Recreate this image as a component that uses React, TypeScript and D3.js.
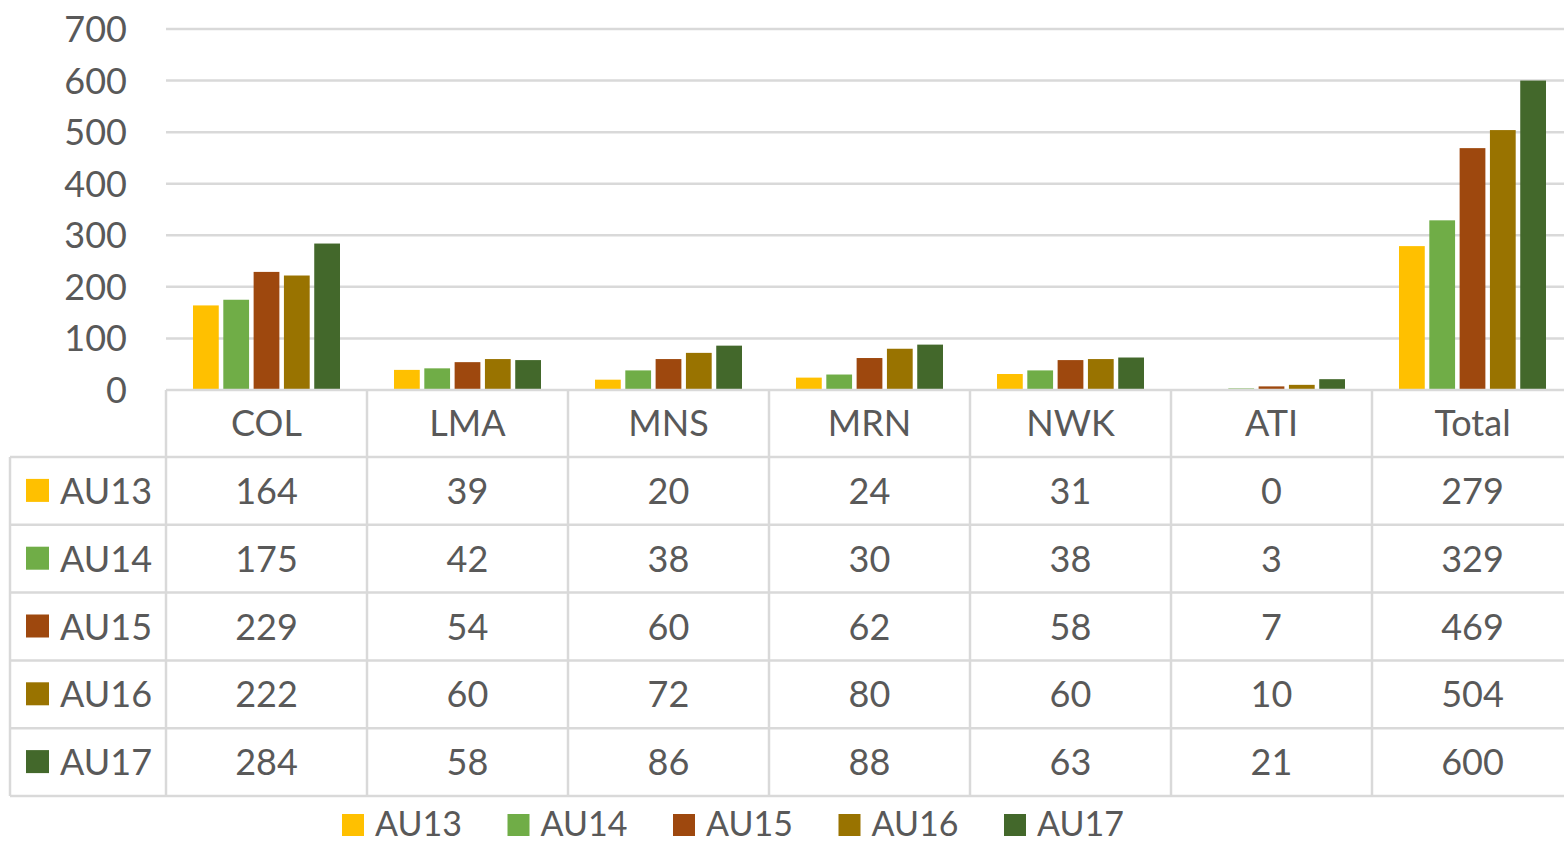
import React, { useRef, useEffect } from 'react'
import * as d3 from 'd3'

const categories = ['COL', 'LMA', 'MNS', 'MRN', 'NWK', 'ATI', 'Total']
const seriesNames = ['AU13', 'AU14', 'AU15', 'AU16', 'AU17']
const au13 = [164, 39, 20, 24, 31, 0, 279]
const au14 = [175, 42, 38, 30, 38, 3, 329]
const au15 = [229, 54, 60, 62, 58, 7, 469]
const au16 = [222, 60, 72, 80, 60, 10, 504]
const au17 = [284, 58, 86, 88, 63, 21, 600]
const seriesColors = ['#FFC000', '#70AD47', '#9E480E', '#997300', '#43682B']
const yTicks = [0, 100, 200, 300, 400, 500, 600, 700]

const W = 1564
const H = 844
const FONT = 'Lato, "Open Sans", sans-serif'
const TEXT = '#595959'
const GRID = '#d9d9d9'

export default function App() {
    const ref = useRef<SVGSVGElement>(null)

    useEffect(() => {
        const svg = d3.select(ref.current)
        svg.selectAll('*').remove()

        const values = [au13, au14, au15, au16, au17]
        const rows = seriesNames.map((name, i) => ({ name, color: seriesColors[i], vals: values[i] }))

        const plotLeft = 166
        const colW = 201
        const x = d3
            .scaleBand()
            .domain(categories)
            .range([plotLeft, plotLeft + colW * categories.length])
            .padding(0)

        const x1 = d3
            .scaleBand()
            .domain(seriesNames)
            .range([27, colW - 27])
            .paddingInner(0.15)
            .paddingOuter(0)

        const y = d3.scaleLinear().domain([0, 700]).range([390, 29])

        // gridlines
        svg.append('g')
            .selectAll('line')
            .data(yTicks.filter((t) => t > 0))
            .join('line')
            .attr('x1', plotLeft)
            .attr('x2', W)
            .attr('y1', (d) => y(d))
            .attr('y2', (d) => y(d))
            .attr('stroke', GRID)
            .attr('stroke-width', 2.5)

        // y labels
        svg.append('g')
            .selectAll('text')
            .data(yTicks)
            .join('text')
            .attr('x', 127)
            .attr('y', (d) => y(d) - 1)
            .attr('text-anchor', 'end')
            .attr('dominant-baseline', 'central')
            .attr('font-family', FONT)
            .attr('font-size', 36)
            .attr('fill', TEXT)
            .text((d) => d)

        // bars
        svg.append('g')
            .selectAll('g')
            .data(rows)
            .join('g')
            .attr('fill', (d) => d.color)
            .selectAll('rect')
            .data((d) => d.vals.map((v, j) => ({ name: d.name, cat: categories[j], v })))
            .join('rect')
            .attr('x', (d) => x(d.cat)! + x1(d.name)!)
            .attr('y', (d) => y(d.v))
            .attr('width', x1.bandwidth())
            .attr('height', (d) => y(0) - y(d.v))

        // data table
        const headTop = y(0)
        const headBottom = 457
        const rowH = 67.8
        const tableLeft = 10
        const tableBottom = headBottom + rowH * rows.length
        const table = svg.append('g').attr('stroke', GRID).attr('stroke-width', 2.5)

        table.append('line')
            .attr('x1', plotLeft).attr('x2', W)
            .attr('y1', headTop).attr('y2', headTop)

        table.selectAll('line.h')
            .data(d3.range(rows.length + 1))
            .join('line')
            .attr('class', 'h')
            .attr('x1', tableLeft).attr('x2', W)
            .attr('y1', (i) => headBottom + i * rowH)
            .attr('y2', (i) => headBottom + i * rowH)

        table.append('line')
            .attr('x1', tableLeft).attr('x2', tableLeft)
            .attr('y1', headBottom).attr('y2', tableBottom)

        table.selectAll('line.v')
            .data(d3.range(categories.length + 1))
            .join('line')
            .attr('class', 'v')
            .attr('x1', (i) => plotLeft + i * colW)
            .attr('x2', (i) => plotLeft + i * colW)
            .attr('y1', headTop)
            .attr('y2', tableBottom)

        // header labels
        svg.append('g')
            .selectAll('text')
            .data(categories)
            .join('text')
            .attr('x', (d) => x(d)! + x.bandwidth() / 2)
            .attr('y', (headTop + headBottom) / 2 - 2)
            .attr('text-anchor', 'middle')
            .attr('dominant-baseline', 'central')
            .attr('font-family', FONT)
            .attr('font-size', 36)
            .attr('fill', TEXT)
            .text((d) => d)

        // rows
        const rowG = svg.append('g')
            .selectAll('g')
            .data(rows)
            .join('g')
            .attr('transform', (d, i) => `translate(0,${headBottom + i * rowH + rowH / 2 - 1})`)

        rowG.append('rect')
            .attr('x', 26)
            .attr('y', -11)
            .attr('width', 23)
            .attr('height', 23)
            .attr('fill', (d) => d.color)

        rowG.append('text')
            .attr('x', 60)
            .attr('dominant-baseline', 'central')
            .attr('font-family', FONT)
            .attr('font-size', 36)
            .attr('fill', TEXT)
            .text((d) => d.name)

        rowG.selectAll('text.val')
            .data((d) => d.vals.map((v, j) => ({ cat: categories[j], v })))
            .join('text')
            .attr('class', 'val')
            .attr('x', (d) => x(d.cat)! + x.bandwidth() / 2)
            .attr('text-anchor', 'middle')
            .attr('dominant-baseline', 'central')
            .attr('font-family', FONT)
            .attr('font-size', 36)
            .attr('fill', TEXT)
            .text((d) => d.v)

        // legend
        const legend = svg.append('g')
            .selectAll('g')
            .data(rows)
            .join('g')
            .attr('transform', (d, i) => `translate(${342 + i * 165.5},822)`)

        legend.append('rect')
            .attr('x', 0)
            .attr('y', -8)
            .attr('width', 22)
            .attr('height', 22)
            .attr('fill', (d) => d.color)

        legend.append('text')
            .attr('x', 33)
            .attr('dominant-baseline', 'central')
            .attr('font-family', FONT)
            .attr('font-size', 34)
            .attr('fill', TEXT)
            .text((d) => d.name)
    }, [])

    return (
        <svg
            ref={ref}
            width={W}
            height={H}
            style={{ position: 'absolute', left: 0, top: 0, background: '#fff' }}
        ></svg>
    )
}
